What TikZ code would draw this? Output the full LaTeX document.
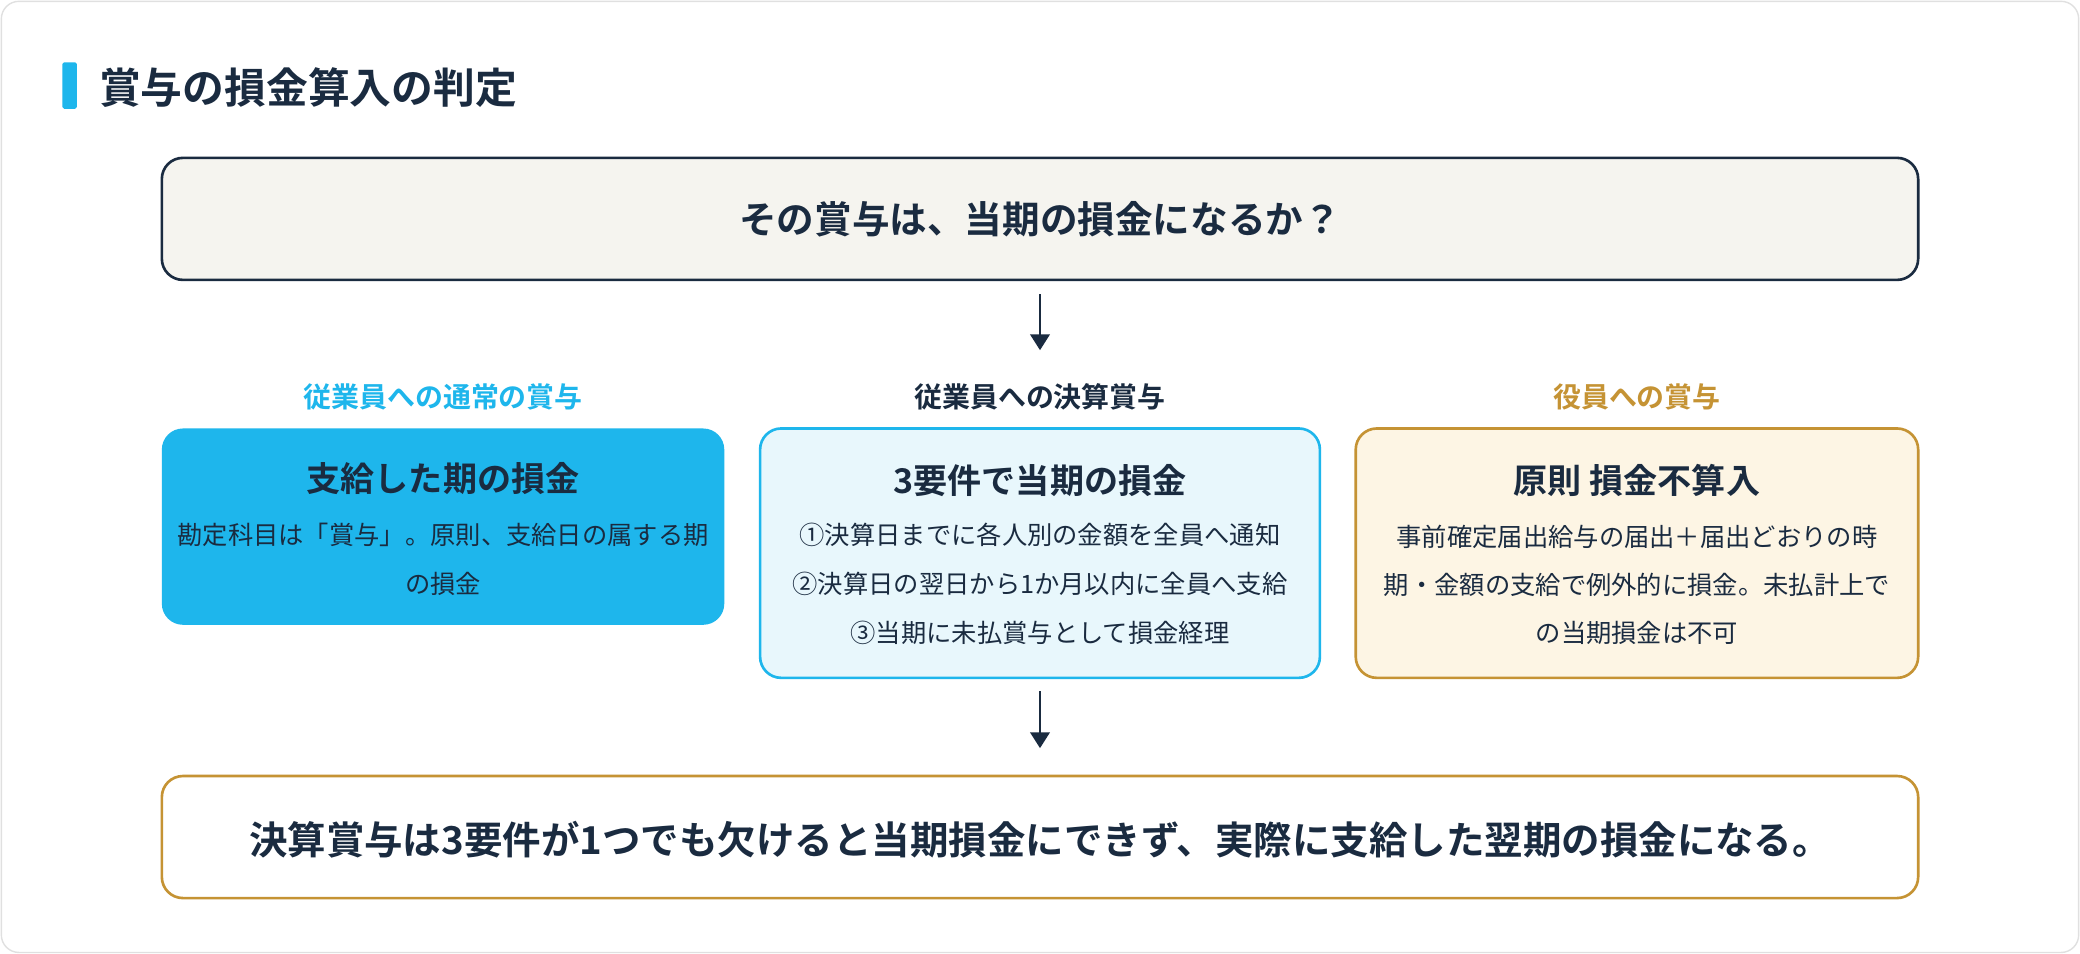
\documentclass[tikz,border=0pt]{standalone}
\usepackage{fontspec}
\setmainfont{Noto Sans CJK JP}[BoldFont={Noto Sans CJK JP Bold}]
\usetikzlibrary{arrows.meta}
\definecolor{navy}{HTML}{1A2B40}
\definecolor{sky}{HTML}{1EB6EC}
\definecolor{gold}{HTML}{C59334}
\definecolor{paper}{HTML}{F5F4EF}
\definecolor{lsky}{HTML}{E8F7FC}
\definecolor{lgold}{HTML}{FDF5E4}
\begin{document}
\begin{tikzpicture}[x=0.02653cm,y=-0.02653cm,
  box/.style={rounded corners=12pt,line width=1.5pt},
  arr/.style={draw=navy,line width=1.5pt,-{Triangle[length=9pt,width=11pt]}},
  lab/.style={font=\fontsize{15.9}{18}\selectfont\bfseries},
  ttl/.style={font=\fontsize{19.4}{22}\selectfont\bfseries,text=navy},
  body/.style={font=\fontsize{14.4}{17}\selectfont,text=navy}]
\useasboundingbox (0,0) rectangle (1568,719);
\draw[rounded corners=10pt,draw=black!12,fill=white,line width=0.8pt] (1,1) rectangle (1567,718);
\fill[sky,rounded corners=1pt] (47,47) rectangle (58,82);
\node[anchor=west,text=navy,font=\fontsize{23.8}{27}\selectfont\bfseries] (title) at (70,66) {賞与の損金算入の判定};
\draw[box,draw=navy,fill=paper] (122,119) rectangle (1446,211);
\node[text=navy,font=\fontsize{21.4}{25}\selectfont\bfseries] (q) at (784,165) {その賞与は、当期の損金になるか？};
\coordinate (a1s) at (784,222); \coordinate (a1e) at (784,264);
\draw[arr] (a1s) -- (a1e);
\node[lab,text=sky] (l1) at (334,299) {従業員への通常の賞与};
\node[lab,text=navy] (l2) at (784,299) {従業員への決算賞与};
\node[lab,text=gold] (l3) at (1234,299) {役員への賞与};
\fill[sky,rounded corners=12pt] (122,323) rectangle (546,471);
\node[ttl] (t1) at (334,361) {支給した期の損金};
\node[body] (b1a) at (334,403) {勘定科目は「賞与」。原則、支給日の属する期};
\node[body] (b1b) at (334,440) {の損金};
\draw[box,draw=sky,fill=lsky] (573,323) rectangle (995,511);
\node[ttl] (t2) at (784,362) {3要件で当期の損金};
\node[body] (b2a) at (784,403) {①決算日までに各人別の金額を全員へ通知};
\node[body] (b2b) at (784,440) {②決算日の翌日から1か月以内に全員へ支給};
\node[body] (b2c) at (784,477) {③当期に未払賞与として損金経理};
\draw[box,draw=gold,fill=lgold] (1022,323) rectangle (1446,511);
\node[ttl] (t3) at (1234,362) {原則 損金不算入};
\node[body] (b3a) at (1234,405) {事前確定届出給与の届出＋届出どおりの時};
\node[body] (b3b) at (1234,441) {期・金額の支給で例外的に損金。未払計上で};
\node[body] (b3c) at (1234,477) {の当期損金は不可};
\coordinate (a2s) at (784,521); \coordinate (a2e) at (784,564);
\draw[arr] (a2s) -- (a2e);
\draw[box,draw=gold,fill=white] (122,585) rectangle (1446,677);
\node[text=navy,font=\fontsize{21.9}{25}\selectfont\bfseries] (c) at (784,633) {決算賞与は3要件が1つでも欠けると当期損金にできず、実際に支給した翌期の損金になる。};
\end{tikzpicture}
\end{document}
